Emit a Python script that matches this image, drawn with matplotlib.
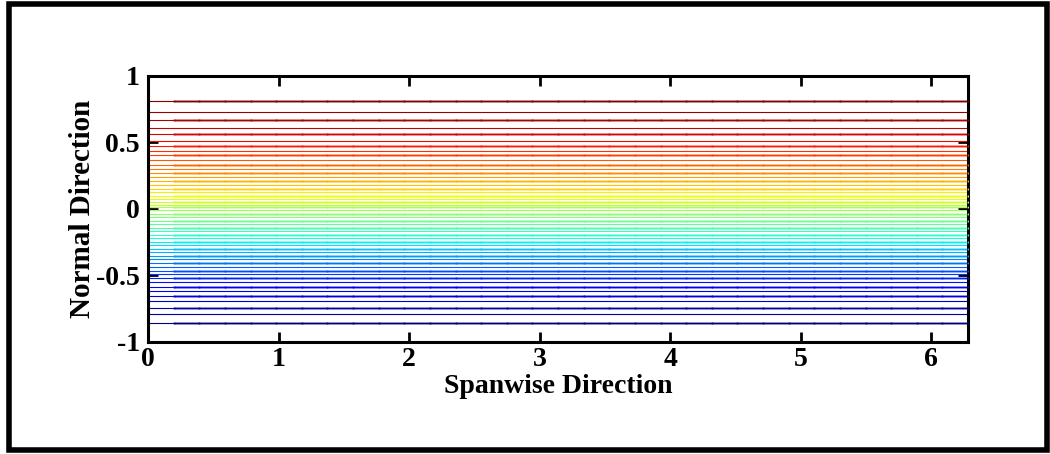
import numpy as np
import matplotlib
matplotlib.use("Agg")
import matplotlib.pyplot as plt
from matplotlib.patches import Rectangle

# contour levels (normal-direction positions), bottom to top
levels_y = [-0.858, -0.793, -0.743, -0.694, -0.654, -0.619, -0.586, -0.553,
            -0.523, -0.493, -0.466, -0.436, -0.408, -0.380, -0.353, -0.328,
            -0.303, -0.275, -0.248, -0.220, -0.195, -0.170, -0.145, -0.117,
            -0.092, -0.065, -0.040, -0.012, 0.011, 0.032, 0.050, 0.071,
            0.095, 0.123, 0.150, 0.178, 0.208, 0.238, 0.268, 0.298,
            0.329, 0.364, 0.404, 0.434, 0.471, 0.509, 0.559, 0.609,
            0.667, 0.729, 0.810]
n_grid = 32
x_max = 2 * np.pi
x_ticks = [0, 1, 2, 3, 4, 5, 6]
y_ticks = [-1, -0.5, 0, 0.5, 1]
y_ticklabels = ['-1', '-0.5', '0', '0.5', '1']

plt.rcParams['font.family'] = ['Liberation Serif', 'DejaVu Serif']
plt.rcParams['font.weight'] = 'bold'

fig = plt.figure(figsize=(10.5, 4.54), dpi=100)
ax = fig.add_axes([0.141, 0.247, 0.781, 0.586])

cmap = plt.get_cmap('jet')
n = len(levels_y)
x_grid = np.arange(1, n_grid + 1) * x_max / n_grid
for i, yv in enumerate(levels_y):
    c = cmap(i / (n - 1))
    if i % 2 == 0:
        ax.plot([x_grid[0], x_max], [yv, yv], color=c, alpha=0.45, lw=2.0,
                solid_capstyle='butt', zorder=1)
        ax.plot(x_grid, np.full_like(x_grid, yv), linestyle='none', marker='s',
                ms=1.3, mew=0, color=c, zorder=3)
    ax.plot([0, x_max], [yv, yv], color=c, lw=0.8, zorder=2)

ax.set_xlim(0, x_max)
ax.set_ylim(-1, 1)
ax.set_xticks(x_ticks)
ax.set_yticks(y_ticks)
ax.set_yticklabels(y_ticklabels)
ax.tick_params(direction='in', length=7, width=2, top=True, right=True,
               labelsize=20)
ax.tick_params(axis='x', pad=4)
ax.tick_params(axis='y', pad=6)
for lab in ax.get_xticklabels() + ax.get_yticklabels():
    lab.set_fontweight('bold')
for s in ax.spines.values():
    s.set_linewidth(2.2)
ax.set_xlabel('Spanwise Direction', fontsize=20, fontweight='bold', labelpad=1)
ax.set_ylabel('Normal Direction', fontsize=21, fontweight='bold', labelpad=0)

fig.patches.append(Rectangle((9 / 1050, 4 / 454), 1038 / 1050, 446 / 454,
                             transform=fig.transFigure, fill=False,
                             edgecolor='black', lw=4, zorder=10))

fig.savefig('out.png', dpi=100)
